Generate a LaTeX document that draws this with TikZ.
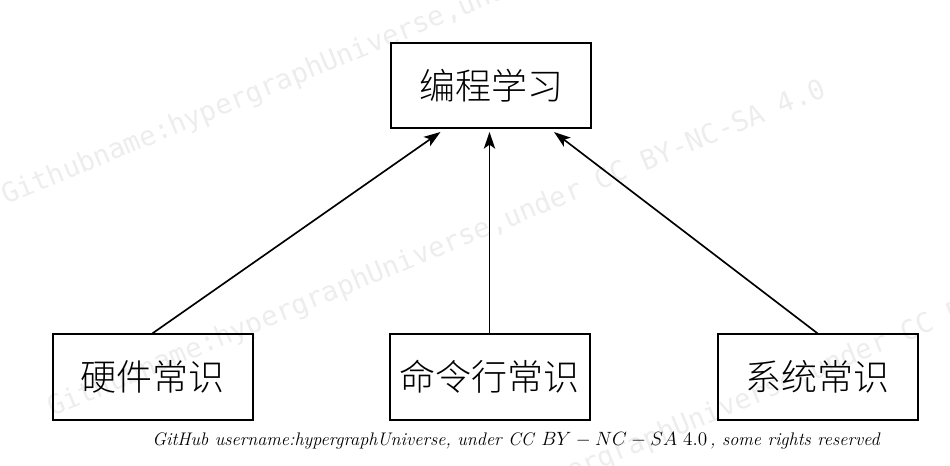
\documentclass[tikz,border=0pt]{standalone}
\usepackage{fontspec}
\usetikzlibrary{arrows.meta}
\newfontfamily\cjk{Noto Sans CJK SC Light}
\newfontfamily\wmfont{DejaVu Sans Mono}
\begin{document}
\begin{tikzpicture}[x=0.75pt,y=-0.75pt,
  box/.style={draw,line width=1.5pt,minimum width=150pt,minimum height=64pt,inner sep=0pt,font=\cjk\fontsize{27}{30}\selectfont},
  conn/.style={line width=1.25pt,-{Stealth[length=12.5pt,width=8.5pt,inset=3pt]}},
  wm/.style={color=black!7,font=\wmfont\fontsize{20.5}{24}\selectfont,rotate=22.5,anchor=base west,inner sep=0pt},
  captxt/.style={anchor=base west,inner sep=0pt,font=\fontsize{13.65}{16}\selectfont}]
\useasboundingbox (0,0) rectangle (950,465);
\node[wm] (wm1) at (6,205) {Githubname:hypergraphUniverse,under CC BY-NC-SA 4.0};
\node[wm] (wm2) at (52,417) {Githubname:hypergraphUniverse,under CC BY-NC-SA 4.0};
\node[wm] (wm3) at (358,569) {Githubname:hypergraphUniverse,under CC BY-NC-SA 4.0};
\node[box] (top) at (491,85.5) {编程学习};
\node[box] (hw) at (152.5,377) {硬件常识};
\node[box] (cmd) at (489.5,377) {命令行常识};
\node[box] (sys) at (817.5,377) {系统常识};
\coordinate (t1) at (440.5,132);
\coordinate (t2) at (489.5,132);
\coordinate (t3) at (554,132);
\draw[conn] (hw.north) -- (t1);
\draw[conn] (cmd.north) -- (t2);
\draw[conn] (sys.north) -- (t3);
\node[captxt] (caption) at (152,445) {\textit{GitHub username:hypergraphUniverse, under CC} $BY-NC-SA\ 4.0$\,\textit{, some rights reserved}};
\end{tikzpicture}
\end{document}
